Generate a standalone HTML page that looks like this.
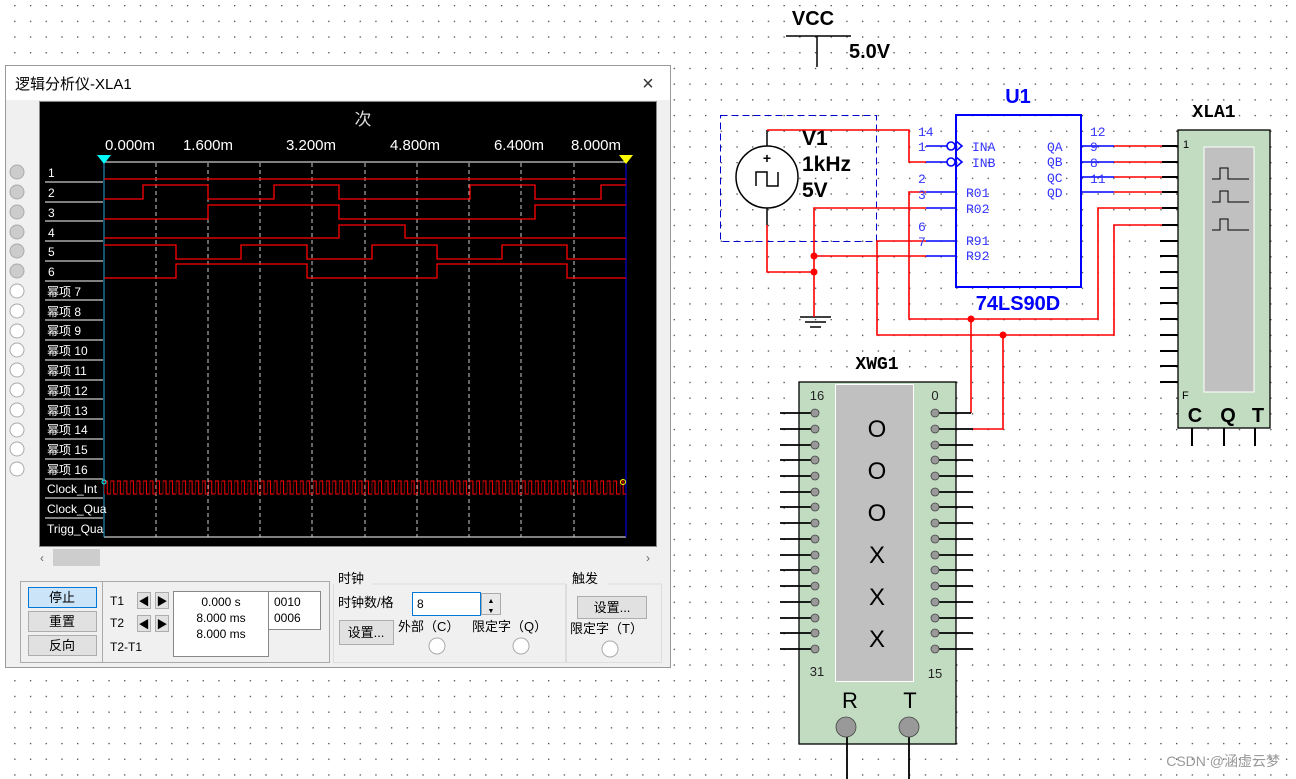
<!DOCTYPE html>
<html><head><meta charset="utf-8"><style>
html,body{margin:0;padding:0;background:#fff;}
svg{display:block;font-family:"Liberation Sans","Noto Sans CJK SC",sans-serif;}
.m{font-family:"Liberation Mono","DejaVu Sans Mono",monospace;}
</style></head><body>
<svg width="1296" height="779" viewBox="0 0 1296 779" xmlns="http://www.w3.org/2000/svg">
<defs>
<pattern id="grid" x="705" y="5" width="15.7" height="15.7" patternUnits="userSpaceOnUse"><rect x="0" y="0" width="1.3" height="1.3" fill="#444"/></pattern>
<pattern id="clk" x="104" y="0" width="6.53" height="779" patternUnits="userSpaceOnUse"><path d="M0 494 V481 H3.26 V494 H6.53" fill="none" stroke="#f00" stroke-width="1"/></pattern>
</defs>
<rect width="1296" height="779" fill="#fff"/>
<rect width="1296" height="779" fill="url(#grid)"/>

<!-- ===== Logic analyzer window ===== -->
<rect x="5.5" y="65.5" width="665" height="602" fill="#f0f0f0" stroke="#999"/>
<rect x="6" y="66" width="664" height="34" fill="#fff"/>
<text x="15" y="89" font-size="15" fill="#000">逻辑分析仪-XLA1</text>
<text x="648" y="90" font-size="20" fill="#333" text-anchor="middle">×</text>
<rect x="39.5" y="101.5" width="617" height="445" fill="#000" stroke="#888"/>
<text x="363" y="125" font-size="17" fill="#ddd" text-anchor="middle">次</text>
<g font-size="15" fill="#fff" text-anchor="middle">
<text x="130" y="150">0.000m</text><text x="208" y="150">1.600m</text><text x="311" y="150">3.200m</text><text x="415" y="150">4.800m</text><text x="519" y="150">6.400m</text><text x="596" y="150">8.000m</text>
</g>
<line x1="104" y1="162" x2="626" y2="162" stroke="#fff"/>
<line x1="104" y1="537" x2="626" y2="537" stroke="#fff"/>
<g stroke="#ccc" stroke-dasharray="4,3">
<line x1="156" y1="163" x2="156" y2="537"/><line x1="208" y1="163" x2="208" y2="537"/><line x1="260" y1="163" x2="260" y2="537"/><line x1="312" y1="163" x2="312" y2="537"/><line x1="365" y1="163" x2="365" y2="537"/><line x1="417" y1="163" x2="417" y2="537"/><line x1="469" y1="163" x2="469" y2="537"/><line x1="521" y1="163" x2="521" y2="537"/><line x1="574" y1="163" x2="574" y2="537"/>
</g>
<line x1="104" y1="162" x2="104" y2="537" stroke="#29a3e0"/>
<line x1="626" y1="162" x2="626" y2="537" stroke="#0000ff"/>
<polygon points="97,155 111,155 104,164" fill="#0ff"/>
<polygon points="619,155 633,155 626,164" fill="#ff0"/>
<!-- labels -->
<g stroke="#fff">
<line x1="45" y1="182" x2="103" y2="182"/><line x1="45" y1="202" x2="103" y2="202"/><line x1="45" y1="221" x2="103" y2="221"/><line x1="45" y1="241" x2="103" y2="241"/><line x1="45" y1="261" x2="103" y2="261"/><line x1="45" y1="281" x2="103" y2="281"/><line x1="45" y1="300" x2="103" y2="300"/><line x1="45" y1="320" x2="103" y2="320"/><line x1="45" y1="340" x2="103" y2="340"/><line x1="45" y1="360" x2="103" y2="360"/><line x1="45" y1="380" x2="103" y2="380"/><line x1="45" y1="399" x2="103" y2="399"/><line x1="45" y1="419" x2="103" y2="419"/><line x1="45" y1="439" x2="103" y2="439"/><line x1="45" y1="459" x2="103" y2="459"/><line x1="45" y1="479" x2="103" y2="479"/><line x1="45" y1="498" x2="103" y2="498"/><line x1="45" y1="518" x2="103" y2="518"/>
</g>
<g font-size="12" fill="#fff">
<text x="48" y="177">1</text><text x="48" y="197">2</text><text x="48" y="217">3</text><text x="48" y="237">4</text><text x="48" y="256">5</text><text x="48" y="276">6</text>
<text x="47" y="296">幂项 7</text><text x="47" y="316">幂项 8</text><text x="47" y="335">幂项 9</text><text x="47" y="355">幂项 10</text><text x="47" y="375">幂项 11</text><text x="47" y="395">幂项 12</text><text x="47" y="415">幂项 13</text><text x="47" y="434">幂项 14</text><text x="47" y="454">幂项 15</text><text x="47" y="474">幂项 16</text>
<text x="47" y="493">Clock_Int</text><text x="47" y="513">Clock_Qua</text><text x="47" y="533">Trigg_Qua</text>
</g>
<!-- waveforms -->
<g fill="none" stroke="#f00" stroke-width="1.3">
<path d="M104 179 H626"/>
<path d="M104 199 H143 V185 H208 V199 H274 V185 H339 V199 H470 V185 H535 V199 H601 V185 H626"/>
<path d="M104 219 H208 V205 H339 V219 H535 V205 H626"/>
<path d="M104 238 H339 V225 H405 V238 H626"/>
<path d="M104 245 H176 V259 H241 V245 H307 V259 H372 V245 H437 V259 H502 V245 H567 V259 H626"/>
<path d="M104 278 H176 V264 H307 V278 H437 V264 H567 V278 H626"/>
</g>
<rect x="104" y="478" width="522" height="18" fill="url(#clk)"/>
<circle cx="104" cy="482" r="2" fill="none" stroke="#0ff"/>
<circle cx="623" cy="482" r="2.5" fill="none" stroke="#ff0"/>
<!-- radio column -->
<g stroke="#aaa">
<circle cx="17" cy="172" r="7" fill="#ccc"/><circle cx="17" cy="192" r="7" fill="#ccc"/><circle cx="17" cy="212" r="7" fill="#ccc"/><circle cx="17" cy="232" r="7" fill="#ccc"/><circle cx="17" cy="251" r="7" fill="#ccc"/><circle cx="17" cy="271" r="7" fill="#ccc"/>
<circle cx="17" cy="291" r="7" fill="#fff"/><circle cx="17" cy="311" r="7" fill="#fff"/><circle cx="17" cy="331" r="7" fill="#fff"/><circle cx="17" cy="350" r="7" fill="#fff"/><circle cx="17" cy="370" r="7" fill="#fff"/><circle cx="17" cy="390" r="7" fill="#fff"/><circle cx="17" cy="410" r="7" fill="#fff"/><circle cx="17" cy="430" r="7" fill="#fff"/><circle cx="17" cy="449" r="7" fill="#fff"/><circle cx="17" cy="469" r="7" fill="#fff"/>
</g>
<!-- scrollbar -->
<text x="42" y="562" font-size="12" fill="#666" text-anchor="middle">‹</text>
<rect x="53" y="549" width="47" height="17" fill="#cdcdcd"/>
<text x="648" y="562" font-size="12" fill="#666" text-anchor="middle">›</text>
<!-- bottom panel -->
<rect x="20.5" y="581.5" width="309" height="81" fill="none" stroke="#aaa"/>
<line x1="102.5" y1="582" x2="102.5" y2="662" stroke="#aaa"/>
<rect x="28.5" y="587.5" width="68" height="20" fill="#cce4f7" stroke="#0078d7"/>
<rect x="28.5" y="611.5" width="68" height="20" fill="#e1e1e1" stroke="#adadad"/>
<rect x="28.5" y="635.5" width="68" height="20" fill="#e1e1e1" stroke="#adadad"/>
<g font-size="13" fill="#000" text-anchor="middle"><text x="62" y="602">停止</text><text x="62" y="626">重置</text><text x="62" y="650">反向</text></g>
<g font-size="12" fill="#000"><text x="110" y="605">T1</text><text x="110" y="627">T2</text><text x="110" y="651">T2-T1</text></g>
<g fill="#e1e1e1" stroke="#adadad"><rect x="137.5" y="592.5" width="13" height="16"/><rect x="155.5" y="592.5" width="13" height="16"/><rect x="137.5" y="615.5" width="13" height="16"/><rect x="155.5" y="615.5" width="13" height="16"/></g>
<g font-size="11" fill="#000" text-anchor="middle"><text x="144" y="605">◀</text><text x="162" y="605">▶</text><text x="144" y="628">◀</text><text x="162" y="628">▶</text></g>
<rect x="173.5" y="591.5" width="95" height="65" fill="#fff" stroke="#888"/>
<g font-size="12" fill="#000" text-anchor="middle"><text x="221" y="606">0.000 s</text><text x="221" y="622">8.000 ms</text><text x="221" y="638">8.000 ms</text></g>
<rect x="268.5" y="591.5" width="52" height="38" fill="#fff" stroke="#888"/>
<g font-size="12" fill="#000"><text x="274" y="606">0010</text><text x="274" y="622">0006</text></g>
<path d="M333.5 584 V662.5 H565.5 V584 H372" fill="none" stroke="#ddd"/>
<text x="338" y="583" font-size="13">时钟</text>
<text x="338" y="607" font-size="13">时钟数/格</text>
<rect x="412.5" y="592.5" width="68" height="23" fill="#fff" stroke="#0078d7"/>
<text x="417" y="608" font-size="12">8</text>
<rect x="481.5" y="593.5" width="19" height="21" fill="#e8e8e8" stroke="#aaa"/>
<text x="491" y="603" font-size="7" text-anchor="middle">▲</text><text x="491" y="613" font-size="7" text-anchor="middle">▼</text>
<rect x="339.5" y="620.5" width="54" height="24" fill="#e1e1e1" stroke="#adadad"/>
<text x="366" y="637" font-size="13" text-anchor="middle">设置...</text>
<text x="398" y="631" font-size="13">外部（C）</text>
<text x="472" y="631" font-size="13">限定字（Q）</text>
<circle cx="437" cy="646" r="8" fill="#fff" stroke="#aaa"/>
<circle cx="521" cy="646" r="8" fill="#fff" stroke="#aaa"/>
<path d="M566.5 584 V662.5 H661.5 V584 H608" fill="none" stroke="#ddd"/>
<text x="572" y="583" font-size="13">触发</text>
<rect x="577.5" y="596.5" width="69" height="22" fill="#e1e1e1" stroke="#adadad"/>
<text x="612" y="612" font-size="13" text-anchor="middle">设置...</text>
<text x="570" y="633" font-size="13">限定字（T）</text>
<circle cx="610" cy="649" r="8" fill="#fff" stroke="#aaa"/>

<!-- ===== Schematic ===== -->
<g font-weight="bold" fill="#000">
<text x="813" y="25" font-size="20" text-anchor="middle">VCC</text>
<text x="849" y="58" font-size="20">5.0V</text>
</g>
<line x1="786" y1="36" x2="851" y2="36" stroke="#000" stroke-width="1.5"/>
<line x1="817" y1="36" x2="817" y2="67" stroke="#000" stroke-width="1.5"/>
<!-- V1 -->
<rect x="720.5" y="115.5" width="156" height="126" fill="none" stroke="#0000cc" stroke-dasharray="7,4"/>
<circle cx="767" cy="177" r="31" fill="#fff" stroke="#000" stroke-width="1.5"/>
<text x="767" y="163" font-size="14" font-weight="bold" text-anchor="middle">+</text>
<path d="M756 186 V172 H767 V186 H778 V172" fill="none" stroke="#000" stroke-width="1.5"/>
<line x1="767" y1="130" x2="767" y2="146" stroke="#000" stroke-width="1.5"/>
<line x1="767" y1="208" x2="767" y2="225" stroke="#000" stroke-width="1.5"/>
<g font-weight="bold" font-size="21" fill="#000"><text x="802" y="145">V1</text><text x="802" y="171">1kHz</text><text x="802" y="197">5V</text></g>
<!-- ground -->
<line x1="800" y1="317" x2="831" y2="317" stroke="#000" stroke-width="1.5"/>
<line x1="805" y1="322" x2="826" y2="322" stroke="#000" stroke-width="1.5"/>
<line x1="810" y1="327" x2="821" y2="327" stroke="#000" stroke-width="1.5"/>
<!-- red wires -->
<g fill="none" stroke="#f00" stroke-width="1.6">
<path d="M767 130 H909 V162 H926"/>
<path d="M767 225 V272 H814"/>
<path d="M814 317 V208 H926"/>
<path d="M814 256 H926"/>
<path d="M926 192 H909 V319 H1098 V208 H1162"/>
<path d="M926 241 H877 V335 H1114 V225 H1162"/>
<path d="M971 319 V413"/>
<path d="M1003 335 V429 H973"/>
<path d="M1114 146 H1162 M1114 162 H1162 M1114 177 H1162 M1114 192 H1162"/>
</g>
<g fill="#f00"><circle cx="814" cy="256" r="3.5"/><circle cx="814" cy="272" r="3.5"/><circle cx="971" cy="319" r="3.5"/><circle cx="1003" cy="335" r="3.5"/></g>
<!-- U1 -->
<text x="1018" y="103" font-size="20" font-weight="bold" fill="#0000ff" text-anchor="middle">U1</text>
<rect x="956" y="115" width="125" height="172" fill="none" stroke="#0000ff" stroke-width="2"/>
<text x="1018" y="310" font-size="20" font-weight="bold" fill="#0000ff" text-anchor="middle">74LS90D</text>
<g stroke="#0000ff" stroke-width="1.6" fill="none">
<path d="M926 146 H947 M926 162 H947 M926 192 H956 M926 208 H956 M926 241 H956 M926 256 H956"/>
<path d="M1081 146 H1114 M1081 162 H1114 M1081 177 H1114 M1081 192 H1114"/>
<circle cx="951" cy="146" r="4" fill="#fff"/><circle cx="951" cy="162" r="4" fill="#fff"/>
<path d="M956 141 L962 146 L956 151 M956 157 L962 162 L956 167"/>
</g>
<g class="m" font-size="13" fill="#3333ff">
<text x="918" y="136">14</text><text x="918" y="151">1</text><text x="918" y="183">2</text><text x="918" y="199">3</text><text x="918" y="231">6</text><text x="918" y="246">7</text>
<text x="972" y="151">INA</text><text x="972" y="167">INB</text><text x="966" y="197">R01</text><text x="966" y="213">R02</text><text x="966" y="245">R91</text><text x="966" y="260">R92</text>
<text x="1047" y="151">QA</text><text x="1047" y="166">QB</text><text x="1047" y="182">QC</text><text x="1047" y="197">QD</text>
<text x="1090" y="136">12</text><text x="1090" y="151">9</text><text x="1090" y="167">8</text><text x="1090" y="183">11</text>
</g>
<!-- XLA1 -->
<text x="1214" y="117" class="m" font-size="18" font-weight="bold" text-anchor="middle">XLA1</text>
<rect x="1178" y="130" width="92" height="298" fill="#c2dcc2" stroke="#000" stroke-width="1.3"/>
<rect x="1204" y="147" width="50" height="245" fill="#c0c0c0" stroke="#fff"/>
<g fill="none" stroke="#000" stroke-width="1"><path d="M1212 179 H1220 V168 H1228 V179 H1249"/><path d="M1212 202 H1220 V191 H1228 V202 H1249"/><path d="M1212 230 H1220 V219 H1228 V230 H1249"/></g>
<g stroke="#000" stroke-width="2">
<path d="M1162 146 H1178 M1162 162 H1178 M1162 177 H1178 M1162 192 H1178 M1162 208 H1178 M1162 225 H1178 M1160 241 H1178 M1160 256 H1178 M1160 272 H1178 M1160 288 H1178 M1160 303 H1178 M1160 319 H1178 M1160 335 H1178 M1160 351 H1178 M1160 366 H1178 M1160 382 H1178"/>
<path d="M1192 428 V446 M1224 428 V446 M1255 428 V446"/>
</g>
<text x="1183" y="148" font-size="11">1</text><text x="1182" y="399" font-size="11">F</text>
<g font-size="20" font-weight="bold" text-anchor="middle"><text x="1195" y="422">C</text><text x="1228" y="422">Q</text><text x="1258" y="422">T</text></g>
<!-- XWG1 -->
<text x="877" y="369" class="m" font-size="18" font-weight="bold" text-anchor="middle">XWG1</text>
<rect x="799" y="382" width="157" height="362" fill="#c2dcc2" stroke="#000" stroke-width="1.3"/>
<rect x="835.5" y="384.5" width="78" height="297" fill="#c0c0c0" stroke="#fff"/>
<g stroke="#000" stroke-width="1.8">
<path d="M780 413 H813 M780 429 H813 M780 445 H813 M780 460 H813 M780 476 H813 M780 492 H813 M780 507 H813 M780 523 H813 M780 539 H813 M780 555 H813 M780 570 H813 M780 586 H813 M780 602 H813 M780 618 H813 M780 633 H813 M780 649 H813"/>
<path d="M937 413 H971 M937 429 H973 M937 445 H973 M937 460 H973 M937 476 H973 M937 492 H973 M937 507 H973 M937 523 H973 M937 539 H973 M937 555 H973 M937 570 H973 M937 586 H973 M937 602 H973 M937 618 H973 M937 633 H973 M937 649 H973"/>
<path d="M847 727 V779 M909 727 V779"/>
</g>
<g fill="#999" stroke="#444" stroke-width="0.8">
<circle cx="815" cy="413" r="4"/><circle cx="815" cy="429" r="4"/><circle cx="815" cy="445" r="4"/><circle cx="815" cy="460" r="4"/><circle cx="815" cy="476" r="4"/><circle cx="815" cy="492" r="4"/><circle cx="815" cy="507" r="4"/><circle cx="815" cy="523" r="4"/><circle cx="815" cy="539" r="4"/><circle cx="815" cy="555" r="4"/><circle cx="815" cy="570" r="4"/><circle cx="815" cy="586" r="4"/><circle cx="815" cy="602" r="4"/><circle cx="815" cy="618" r="4"/><circle cx="815" cy="633" r="4"/><circle cx="815" cy="649" r="4"/>
<circle cx="935" cy="413" r="4"/><circle cx="935" cy="429" r="4"/><circle cx="935" cy="445" r="4"/><circle cx="935" cy="460" r="4"/><circle cx="935" cy="476" r="4"/><circle cx="935" cy="492" r="4"/><circle cx="935" cy="507" r="4"/><circle cx="935" cy="523" r="4"/><circle cx="935" cy="539" r="4"/><circle cx="935" cy="555" r="4"/><circle cx="935" cy="570" r="4"/><circle cx="935" cy="586" r="4"/><circle cx="935" cy="602" r="4"/><circle cx="935" cy="618" r="4"/><circle cx="935" cy="633" r="4"/><circle cx="935" cy="649" r="4"/>
<circle cx="846" cy="727" r="10"/><circle cx="909" cy="727" r="10"/>
</g>
<g font-size="13" fill="#222" text-anchor="middle"><text x="817" y="400">16</text><text x="935" y="400">0</text><text x="817" y="676">31</text><text x="935" y="678">15</text></g>
<g font-size="24" fill="#000" text-anchor="middle"><text x="877" y="437">O</text><text x="877" y="479">O</text><text x="877" y="521">O</text><text x="877" y="563">X</text><text x="877" y="605">X</text><text x="877" y="647">X</text></g>
<g font-size="22" fill="#000" text-anchor="middle"><text x="850" y="708">R</text><text x="910" y="708">T</text></g>
<text x="1280" y="766" font-size="14" fill="#999" text-anchor="end">CSDN @涵虚云梦</text>
</svg>
</body></html>
